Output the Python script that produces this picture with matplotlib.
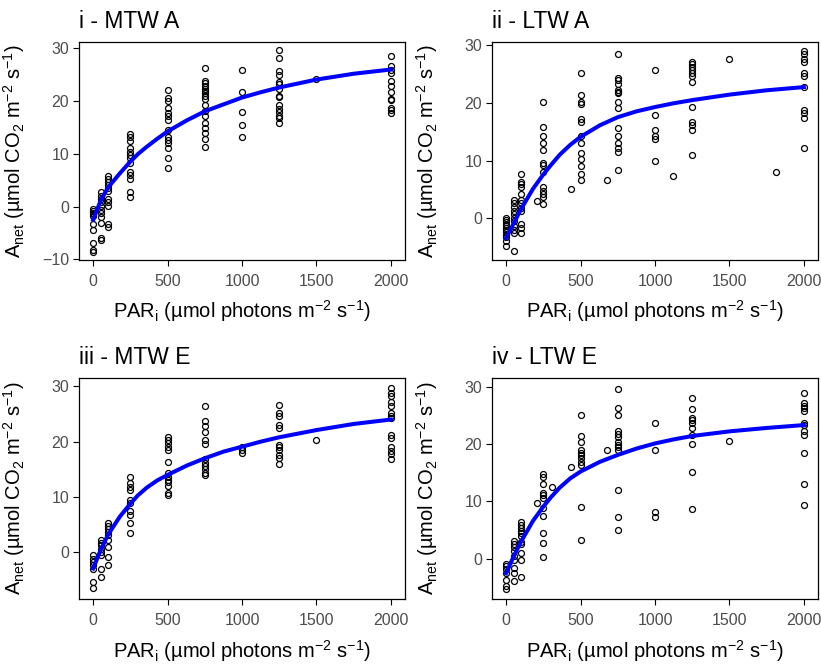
import matplotlib
matplotlib.use("Agg")
import matplotlib.pyplot as plt

plt.rcParams['font.family'] = ['Liberation Sans', 'DejaVu Sans']
plt.rcParams['mathtext.fontset'] = 'custom'
plt.rcParams['mathtext.rm'] = 'Liberation Sans'
plt.rcParams['mathtext.it'] = 'Liberation Sans:italic'

mtw_a = {
    0: [-0.5, -0.8, -1.2, -1.5, -1.8, -3.3, -4.5, -6.9, -8.2, -8.5],
    50: [2.7, 2.0, 1.4, 0.8, 0.1, -0.7, -1.2, -2.0, -3.1, -6.0, -6.3],
    100: [5.7, 5.2, 4.6, 4.1, 3.6, 3.0, 1.4, 0.8, 0.1, -3.3, -3.9],
    250: [13.7, 13.2, 12.3, 11.0, 10.3, 9.7, 9.1, 8.2, 6.5, 5.9, 5.2, 2.7, 1.9],
    500: [22.0, 20.5, 20.0, 18.7, 17.6, 17.1, 16.4, 14.5, 13.2, 12.6, 12.0, 11.0, 9.1, 7.3],
    750: [26.2, 23.8, 23.3, 22.8, 22.3, 21.9, 21.4, 20.9, 20.4, 19.1, 18.0, 17.1, 15.8, 14.8, 13.9, 12.7, 11.2],
    1000: [25.9, 21.7, 17.8, 15.5, 13.2],
    1250: [29.5, 28.0, 25.6, 24.9, 23.5, 23.2, 22.3, 20.9, 20.7, 19.1, 18.4, 17.8, 17.2, 16.8, 15.8],
    1500: [24.1],
    2000: [28.5, 26.5, 25.8, 25.2, 23.8, 22.7, 21.7, 20.4, 20.1, 18.7, 18.2, 17.6],
}
ltw_a = {
    0: [0.0, -0.3, -0.7, -1.2, -1.6, -2.0, -2.4, -2.8, -3.3, -4.0, -4.8],
    50: [3.2, 2.6, 2.0, 1.3, 0.8, 0.1, -0.5, -1.3, -2.0, -2.6, -5.6],
    100: [7.6, 6.3, 5.9, 5.4, 4.2, 3.1, 2.6, 1.8, 1.3, -1.0, -1.7, -2.6],
    207: [3.0],
    250: [20.2, 15.8, 14.2, 13.1, 11.9, 9.6, 9.2, 8.0, 5.4, 4.8, 4.2, 3.7, 2.4],
    438: [5.1],
    500: [25.2, 21.4, 20.1, 19.8, 17.2, 16.6, 14.2, 13.0, 11.3, 10.3, 9.1, 7.7, 6.6],
    679: [6.6],
    750: [28.5, 24.2, 23.9, 23.3, 22.2, 21.8, 21.6, 20.1, 19.0, 15.6, 14.2, 13.0, 12.1, 11.5, 8.4],
    1000: [25.6, 17.8, 15.2, 14.2, 13.8, 9.9],
    1119: [7.3],
    1250: [27.1, 26.7, 26.2, 25.6, 25.2, 24.6, 23.5, 19.2, 16.6, 16.2, 15.3, 11.0],
    1500: [27.5],
    1811: [8.0],
    2000: [29.0, 28.4, 27.6, 27.0, 25.2, 24.7, 22.8, 18.7, 18.3, 17.3, 12.2],
}
mtw_e = {
    0: [-0.5, -1.1, -1.7, -2.3, -2.9, -5.3, -6.5],
    50: [2.2, 1.8, 1.3, 0.7, 0.1, -0.5, -2.9, -4.4],
    100: [5.3, 4.8, 4.3, 3.7, 3.1, 2.2, 1.0, -0.8, -2.2],
    250: [13.6, 12.6, 11.9, 11.3, 9.4, 8.9, 7.4, 6.8, 5.4, 3.6],
    500: [20.8, 20.3, 19.7, 19.1, 18.5, 16.4, 14.3, 13.7, 13.1, 12.8, 12.0, 10.8, 10.4],
    750: [26.4, 23.8, 22.9, 21.8, 20.3, 19.6, 16.8, 16.1, 15.6, 15.0, 14.4, 14.0],
    1000: [19.1, 18.5, 17.9],
    1250: [26.7, 25.2, 24.7, 23.1, 22.4, 19.4, 19.0, 18.5, 17.6, 17.1, 15.9],
    1500: [20.3],
    2000: [29.7, 28.8, 28.2, 27.1, 26.5, 25.2, 24.7, 24.3, 21.2, 20.6, 19.0, 18.4, 17.8, 16.8],
}
ltw_e = {
    0: [-0.9, -1.3, -1.8, -2.4, -3.7, -4.8, -5.3],
    50: [3.1, 2.6, 2.1, 1.3, 0.5, -0.2, -1.6, -2.4, -3.9],
    100: [6.4, 5.9, 5.3, 4.9, 4.5, 3.9, 3.0, 2.5, 1.0, -0.2, -3.1],
    207: [9.8],
    250: [14.8, 14.2, 13.1, 11.5, 11.1, 10.6, 8.8, 7.4, 4.5, 2.7, 0.4],
    310: [12.5],
    438: [16.0],
    500: [25.1, 21.4, 20.4, 19.0, 18.5, 18.1, 17.5, 16.9, 16.4, 9.1, 3.2],
    679: [19.0],
    750: [29.5, 26.2, 25.1, 22.2, 21.8, 21.3, 20.4, 19.8, 19.4, 19.0, 12.0, 7.3, 5.0],
    1000: [23.7, 19.0, 8.2, 7.3],
    1250: [28.0, 26.1, 24.5, 24.1, 23.7, 22.8, 21.6, 20.0, 15.2, 8.7],
    1500: [20.6],
    2000: [28.8, 27.1, 26.6, 26.2, 25.8, 23.7, 23.3, 22.3, 21.6, 18.5, 13.1, 9.4],
}

# fitted light-response curves
curve_par = [0, 50, 100, 180, 250, 300, 360, 430, 500, 630, 750, 875, 1000, 1125, 1250, 1500, 1750, 2000]
curve_mtw_a = [-2.5, 1.1, 3.6, 6.3, 8.5, 9.9, 11.3, 12.8, 14.2, 16.3, 18.0, 19.3, 20.6, 21.6, 22.5, 24.0, 25.1, 25.9]
curve_ltw_a = [-3.4, -0.9, 1.6, 5.1, 7.6, 9.2, 11.0, 12.7, 14.1, 16.1, 17.5, 18.5, 19.25, 19.9, 20.45, 21.4, 22.15, 22.7]
curve_mtw_e = [-2.9, 0.4, 3.2, 6.5, 8.8, 10.3, 11.7, 13.0, 14.0, 15.7, 17.0, 18.2, 19.1, 20.0, 20.8, 22.1, 23.2, 24.0]
curve_ltw_e = [-2.5, 0.4, 3.0, 6.6, 9.1, 10.7, 12.4, 14.0, 15.2, 16.9, 18.1, 19.2, 20.1, 20.8, 21.4, 22.2, 22.8, 23.3]

titles = ["i - MTW A", "ii - LTW A", "iii - MTW E", "iv - LTW E"]
ylims = [(-10.1, 31.1), (-7.2, 30.5), (-8.4, 31.5), (-7.0, 31.5)]

W, H = 821, 665
fig = plt.figure(figsize=(W / 100, H / 100), dpi=100)

# axes boxes in pixels: left, right, top, bottom
boxes = [(79, 405, 42, 260), (492, 818, 42, 260),
         (79, 405, 378, 599), (492, 818, 378, 599)]

panels = [(mtw_a, curve_mtw_a), (ltw_a, curve_ltw_a),
          (mtw_e, curve_mtw_e), (ltw_e, curve_ltw_e)]

tick_col = '#4d4d4d'

for i, ((pts, curve), (l, r, t, b)) in enumerate(zip(panels, boxes)):
    ax = fig.add_axes([l / W, 1 - b / H, (r - l) / W, (b - t) / H])
    xs, ys = [], []
    for par, vals in pts.items():
        xs += [par] * len(vals)
        ys += vals
    ax.plot(xs, ys, 'o', ms=4.3, mfc='none', mec='black', mew=0.9, zorder=2)
    ax.plot(curve_par, curve, color='#0000ff', lw=2.9, zorder=3,
            solid_joinstyle='round')

    ax.set_xlim(-95, 2095)
    ax.set_ylim(*ylims[i])
    ax.set_xticks([0, 500, 1000, 1500, 2000])
    ax.set_yticks([v for v in [-10, 0, 10, 20, 30] if ylims[i][0] <= v <= ylims[i][1]])
    ax.tick_params(direction='out', length=4, width=0.8, labelsize=11.5,
                   labelcolor=tick_col, color='black')
    ax.tick_params(axis='x', pad=6)
    ax.tick_params(axis='y', pad=3)
    for s in ax.spines.values():
        s.set_linewidth(0.9)

    ax.set_xlabel(r'PAR$_{\mathrm{i}}$ (µmol photons m$^{-2}$ s$^{-1}$)', fontsize=14.5)
    ax.xaxis.set_label_coords(0.5, -0.175)
    ax.set_ylabel(r'A$_{\mathrm{net}}$ (µmol CO$_{2}$ m$^{-2}$ s$^{-1}$)', fontsize=14.5)
    ax.yaxis.set_label_coords(-0.158, 0.5)
    ax.set_title(titles[i], loc='left', fontsize=16.5, pad=10, x=0.0)

fig.savefig('out.png', dpi=100)
